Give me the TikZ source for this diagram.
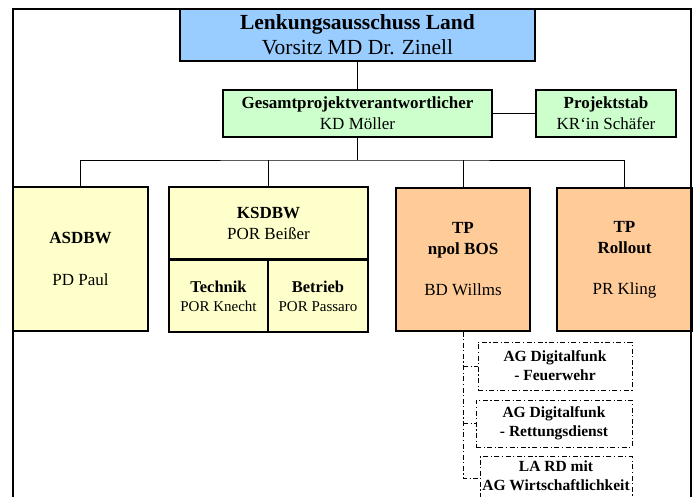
\documentclass[tikz,border=0pt]{standalone}
\usepackage{fontspec}
\setmainfont{Liberation Serif}
\definecolor{cblue}{HTML}{99CCFF}
\definecolor{cgreen}{HTML}{CCFFCC}
\definecolor{cyellow}{HTML}{FFFFCC}
\definecolor{corange}{HTML}{FFCC99}
\begin{document}
\begin{tikzpicture}[x=1pt,y=-1pt,
  box/.style={draw=black, line width=1.1pt, inner sep=0pt, align=center},
  conn/.style={draw=black, line width=0.9pt},
  dd/.style={draw=black, line width=0.9pt, dash pattern=on 5pt off 2.5pt on 1.2pt off 2.5pt},
  ddbox/.style={draw=black, line width=1pt, dash pattern=on 5pt off 2.5pt on 1.2pt off 2.5pt, fill=white, align=center, inner sep=0pt, font=\fontsize{15.5}{19}\selectfont\bfseries},
  big/.style={font=\fontsize{17}{21}\selectfont},
  small/.style={font=\fontsize{15}{19}\selectfont},
  frame/.style={draw=black, line width=2.6pt}]
\useasboundingbox (0,0) rectangle (696,497);
\clip (0,0) rectangle (696,497);
\fill[white] (0,0) rectangle (696,497);

% second level
\node[box, fill=cgreen, big, minimum width=269pt, minimum height=47pt] (gesamt) at (357.5,113.5)
  {\textbf{Gesamtprojektverantwortlicher}\\KD Möller};
\node[box, fill=cgreen, big, minimum width=140pt, minimum height=47pt] (stab) at (606,113.5)
  {\textbf{Projektstab}\\KR‘in Schäfer};

% third level
\node[box, fill=cyellow, big, minimum width=135pt, minimum height=144pt] (asdbw) at (80.5,259)
  {\textbf{ASDBW}\\[21pt]PD Paul};
\node[box, fill=cyellow, big, minimum width=199pt, minimum height=72pt] (ks) at (268.5,223)
  {\textbf{KSDBW}\\POR Beißer};
\node[box, fill=cyellow, small, minimum width=99pt, minimum height=72pt] (tech) at (218.5,296)
  {{\fontsize{16.5}{19}\selectfont\bfseries Technik}\\POR Knecht};
\node[box, fill=cyellow, small, minimum width=100pt, minimum height=72pt] (betr) at (318,296)
  {{\fontsize{16.5}{19}\selectfont\bfseries Betrieb}\\POR Passaro};
\draw[line width=2.2pt] (ks.south west) -- (ks.south east);
\node[box, fill=corange, big, minimum width=134pt, minimum height=143pt] (tpn) at (463,259.5)
  {\textbf{TP}\\\textbf{npol BOS}\\[20pt]BD Willms};
\node[box, fill=corange, big, minimum width=135pt, minimum height=143pt] (tpr) at (624.5,259.5)
  {\textbf{TP}\\\textbf{Rollout}\\[20pt]PR Kling};

% working groups
\node[ddbox, minimum width=154pt, minimum height=48pt] (ag1) at (555,366)
  {AG Digitalfunk\\- Feuerwehr};
\node[ddbox, minimum width=156pt, minimum height=47pt] (ag2) at (554,423.5)
  {AG Digitalfunk\\- Rettungsdienst};
\node[ddbox, minimum width=152pt, inner ysep=4pt, text depth=36pt, anchor=north] (ag3) at (556,456)
  {LA RD mit\\AG Wirtschaftlichkeit};

% frame
\draw[frame] (13,500) -- (13,9) -- (691,9) -- (691,500);

% top box
\node[box, fill=cblue, font=\fontsize{21.5}{25}\selectfont, minimum width=355pt, minimum height=52pt] (lenk) at (357.5,35)
  {\textbf{Lenkungsausschuss Land}\\Vorsitz MD Dr. Zinell};

% connectors
\coordinate (bus) at (357.5,160);
\coordinate (ddend) at (463,478);
\draw[conn] (lenk.south) -- (gesamt.north);
\draw[conn] (gesamt.east) -- (stab.west);
\draw[conn] (gesamt.south) -- (bus);
\draw[conn] (asdbw.north) |- (bus) -| (tpr.north);
\draw[conn] (ks.north) -- (ks.north |- bus);
\draw[conn] (tpn.north) -- (tpn.north |- bus);
\draw[dd] (tpn.south) -- (ddend) -- (ddend -| ag3.west);
\draw[dd] (tpn.south |- ag1.west) -- (ag1.west);
\draw[dd] (tpn.south |- ag2.west) -- (ag2.west);
\end{tikzpicture}
\end{document}
